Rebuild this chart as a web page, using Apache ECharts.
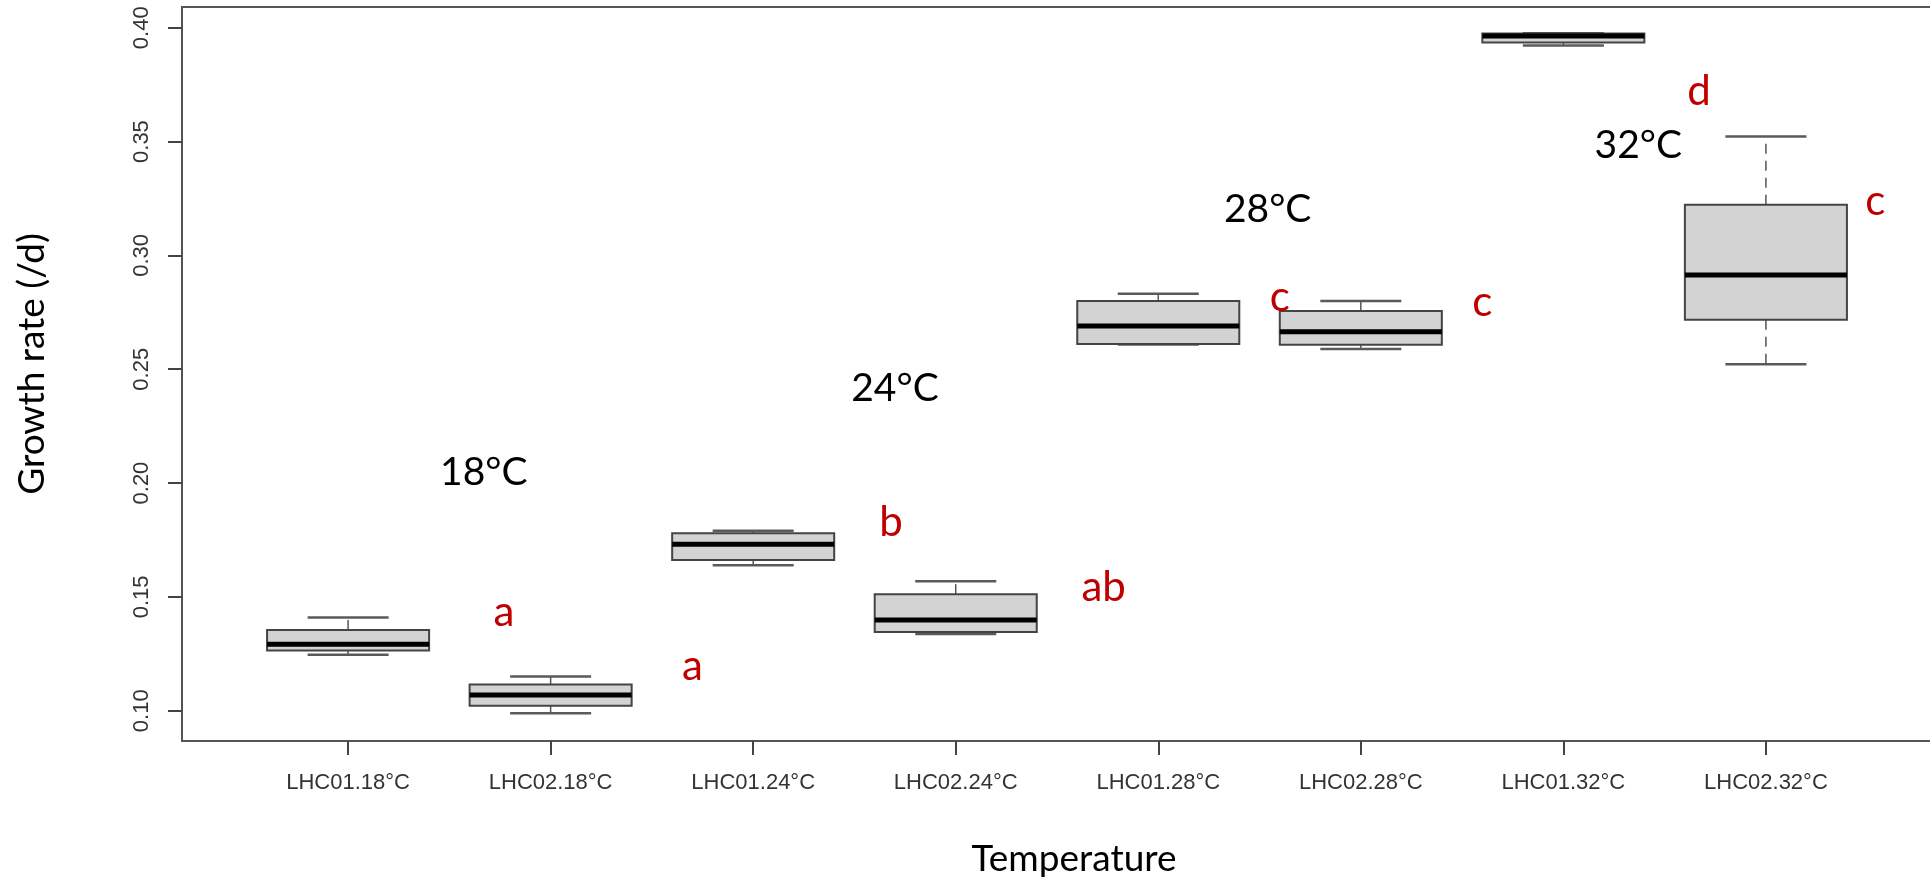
<!DOCTYPE html>
<html>
<head>
<meta charset="utf-8">
<title>Growth rate by temperature</title>
<script src="https://cdn.jsdelivr.net/npm/echarts@6/dist/echarts.min.js"></script>
<style>
    html, body { margin: 0; padding: 0; background: #fff; }
    #chart { width: 1930px; height: 883px; }
</style>
</head>
<body>
<div id="chart"></div>
<script>
// strains x temperature
var categories = ['LHC01.18°C', 'LHC02.18°C', 'LHC01.24°C', 'LHC02.24°C',
                  'LHC01.28°C', 'LHC02.28°C', 'LHC01.32°C', 'LHC02.32°C'];
var whiskerLow    = [0.1246, 0.0989, 0.1639, 0.1337, 0.2609, 0.2589, 0.3922, 0.2522];
var lowerQuartile = [0.1264, 0.1022, 0.1662, 0.1346, 0.2611, 0.2607, 0.3935, 0.2717];
var medians       = [0.1292, 0.1069, 0.1731, 0.1399, 0.2690, 0.2665, 0.3964, 0.2914];
var upperQuartile = [0.1355, 0.1115, 0.1780, 0.1512, 0.2800, 0.2756, 0.3975, 0.3222];
var whiskerHigh   = [0.1409, 0.1150, 0.1791, 0.1569, 0.2831, 0.2800, 0.3976, 0.3522];

var yTicks = [0.10, 0.15, 0.20, 0.25, 0.30, 0.35, 0.40];
var xTicks = [1, 2, 3, 4, 5, 6, 7, 8];

// temperature annotations (x in box index units, y in growth rate)
var tempLabels = ['18°C', '24°C', '28°C', '32°C'];
var tempX = [1.67, 3.70, 5.54, 7.37];
var tempY = [0.2045, 0.2414, 0.3204, 0.3485];

// significance letters, one per box
var groupLetters = ['a', 'a', 'b', 'ab', 'c', 'c', 'd', 'c'];
var letterX = [1.77, 2.70, 3.68, 4.73, 5.60, 6.60, 7.67, 8.54];
var letterY = [0.1430, 0.1193, 0.1825, 0.1540, 0.2814, 0.2792, 0.3718, 0.3235];

var boxData = [];
for (var i = 0; i < categories.length; i++) {
    boxData.push([i + 1, whiskerLow[i], lowerQuartile[i], medians[i], upperQuartile[i], whiskerHigh[i]]);
}

var tempData = [];
for (var i = 0; i < tempLabels.length; i++) {
    tempData.push({name: tempLabels[i], value: [tempX[i], tempY[i]]});
}

var letterData = [];
for (var i = 0; i < groupLetters.length; i++) {
    letterData.push({name: groupLetters[i], value: [letterX[i], letterY[i]]});
}

var renderBox = function(params, api) {
    var x = api.value(0);
    var low = api.coord([x, api.value(1)]);
    var q1 = api.coord([x, api.value(2)]);
    var med = api.coord([x, api.value(3)]);
    var q3 = api.coord([x, api.value(4)]);
    var high = api.coord([x, api.value(5)]);
    var halfBox = api.size([0.4, 0])[0];
    var halfCap = halfBox / 2;
    var cx = med[0];

    var stemStyle = {stroke: '#555', lineWidth: 1.5, lineDash: [10, 7]};
    var capStyle = {stroke: '#5a5a5a', lineWidth: 2.5};

    return {
        type: 'group',
        children: [
            {type: 'line', shape: {x1: cx, y1: q3[1], x2: cx, y2: high[1]}, style: stemStyle},
            {type: 'line', shape: {x1: cx, y1: q1[1], x2: cx, y2: low[1]}, style: stemStyle},
            {type: 'line', shape: {x1: cx - halfCap, y1: high[1], x2: cx + halfCap, y2: high[1]}, style: capStyle},
            {type: 'line', shape: {x1: cx - halfCap, y1: low[1], x2: cx + halfCap, y2: low[1]}, style: capStyle},
            {
                type: 'rect',
                shape: {x: cx - halfBox, y: q3[1], width: halfBox * 2, height: q1[1] - q3[1]},
                style: {fill: '#d3d3d3', stroke: '#444', lineWidth: 2}
            },
            {type: 'line', shape: {x1: cx - halfBox, y1: med[1], x2: cx + halfBox, y2: med[1]}, style: {stroke: '#000', lineWidth: 5}}
        ]
    };
};

var tickFont = {fontFamily: 'Liberation Sans', fontSize: 22, color: '#333'};

var textSeries = function(name, data, size, color) {
    return {
        type: 'scatter',
        name: name,
        symbolSize: 0,
        itemStyle: {color: color},
        silent: true,
        data: data,
        label: {
            show: true,
            position: 'top',
            distance: 0,
            align: 'center',
            verticalAlign: 'middle',
            formatter: '{b}',
            fontFamily: 'Lato',
            fontSize: size,
            color: color,
            opacity: 1,
            textBorderWidth: 0
        },
        z: 5
    };
};

var option = {
    backgroundColor: '#fff',
    animation: false,
    grid: {
        left: 182,
        top: 7,
        right: -2,
        bottom: 142,
        show: true,
        borderColor: '#555',
        borderWidth: 2,
        containLabel: false,
        outerBoundsMode: 'none'
    },
    xAxis: {
        type: 'value',
        min: 0.18,
        max: 8.82,
        splitLine: {show: false},
        axisLine: {show: false},
        axisTick: {show: true, customValues: xTicks, length: 14, lineStyle: {color: '#444', width: 2}},
        axisLabel: {
            customValues: xTicks,
            margin: 31,
            fontFamily: tickFont.fontFamily,
            fontSize: tickFont.fontSize,
            color: tickFont.color,
            formatter: function(v) {
                return categories[Math.round(v) - 1];
            }
        },
        name: 'Temperature',
        nameLocation: 'middle',
        nameGap: 100,
        nameTextStyle: {fontFamily: 'Lato', fontSize: 37, color: '#000', padding: [0, 0, 0, 34]}
    },
    yAxis: {
        type: 'value',
        min: 0.0867,
        max: 0.4091,
        splitLine: {show: false},
        axisLine: {show: false},
        axisTick: {show: true, customValues: yTicks, length: 14, lineStyle: {color: '#444', width: 2}},
        axisLabel: {
            customValues: yTicks,
            rotate: 90,
            margin: 29,
            fontFamily: tickFont.fontFamily,
            fontSize: tickFont.fontSize,
            color: tickFont.color,
            formatter: function(v) {
                return v.toFixed(2);
            }
        },
        name: 'Growth rate (/d)',
        nameLocation: 'middle',
        nameGap: 131,
        nameTextStyle: {fontFamily: 'Lato', fontSize: 37, color: '#000', padding: [0, 0, 0, 20]}
    },
    series: [
        {
            type: 'custom',
            name: 'growth',
            renderItem: renderBox,
            encode: {x: 0, y: [1, 2, 3, 4, 5]},
            data: boxData,
            z: 3
        },
        textSeries('temperature', tempData, 39, '#000'),
        textSeries('letters', letterData, 42, '#c00000')
    ]
};

var chartDom = document.getElementById('chart');
var myChart = echarts.init(chartDom);
myChart.setOption(option);
</script>
</body>
</html>
